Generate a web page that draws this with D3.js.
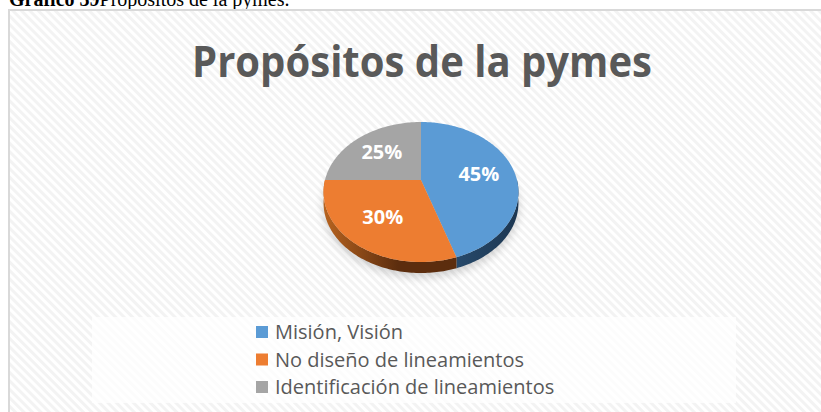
<!DOCTYPE html>
<html>
<head>
<meta charset="utf-8">
<script src="https://cdn.jsdelivr.net/npm/d3@7"></script>
<style>
  body { margin: 0; background: #fff; }
  svg { display: block; }
</style>
</head>
<body>
<script>
var categories = ["Misión, Visión", "No diseño de lineamientos", "Identificación de lineamientos"];
var values = [45, 30, 25];
var labels = ["45%", "30%", "25%"];
var colors = ["#5b9bd5", "#ed7d31", "#a5a5a5"];
var sideColors = [["#2d5479", "#1d3752"], ["#b5621f", "#5c2d0e"], ["#7c7c7c", "#5a5a5a"]];
var title = "Propósitos de la pymes";
var captionBold = "Gráfico 39";
var captionText = "Propósitos de la pymes.";

var width = 821, height = 412;
var cx = 421, cy = 180, k = 96, depth = 11;
var A = 37.1, C = -0.1714;   // simple perspective tilt of the pie

// angle a clockwise from 12 o'clock, r in [0,1]
function project(a, r, dz) {
	var u = r * Math.sin(a), z = -r * Math.cos(a);
	var w = 1 + C * z;
	return [cx + k * u / w, (A * z + cy) / w + (dz || 0)];
}

var svg = d3.select("body").append("svg")
	.attr("width", width)
	.attr("height", height);

var defs = svg.append("defs");

var pat = defs.append("pattern")
	.attr("id", "stripes")
	.attr("patternUnits", "userSpaceOnUse")
	.attr("width", 6)
	.attr("height", 6)
	.attr("patternTransform", "rotate(-45)");
pat.append("rect").attr("width", 6).attr("height", 6).attr("fill", "#ffffff");
pat.append("rect").attr("width", 3).attr("height", 6).attr("fill", "#f3f3f3");

defs.append("filter")
	.attr("id", "blur")
	.attr("x", "-50%").attr("y", "-50%").attr("width", "200%").attr("height", "200%")
	.append("feGaussianBlur")
	.attr("stdDeviation", 5);

sideColors.forEach(function (c, i) {
	var g = defs.append("linearGradient")
		.attr("id", "side" + i)
		.attr("gradientUnits", "userSpaceOnUse")
		.attr("x1", cx - k).attr("x2", cx + k)
		.attr("y1", 0).attr("y2", 0);
	g.append("stop").attr("offset", i === 0 ? 0.5 : 0).attr("stop-color", c[0]);
	g.append("stop").attr("offset", i === 0 ? 1 : 0.38).attr("stop-color", c[1]);
});

// caption above the chart frame (cut off by the page top, as in the source)
var cap = svg.append("text")
	.attr("x", 9)
	.attr("y", 6)
	.style("font", "20px 'Liberation Serif', serif")
	.attr("fill", "#000");
cap.append("tspan").style("font-weight", "bold").text(captionBold);
cap.append("tspan").text(captionText);

// chart frame
svg.append("rect")
	.attr("x", 9)
	.attr("y", 10)
	.attr("width", 900)
	.attr("height", 500)
	.attr("fill", "url(#stripes)")
	.attr("stroke", "#d9d9d9")
	.attr("stroke-width", 2);

svg.append("text")
	.attr("x", 422)
	.attr("y", 77)
	.attr("text-anchor", "middle")
	.attr("textLength", 460)
	.attr("lengthAdjust", "spacingAndGlyphs")
	.style("font", "bold 43px 'Open Sans', sans-serif")
	.attr("fill", "#595959")
	.text(title);

var pie = d3.pie().sort(null).value(d => d);
var arcs = pie(values);

var line = d3.line();

function arcPoints(a0, a1, r, dz) {
	var n = Math.max(2, Math.ceil((a1 - a0) / 0.02));
	return d3.range(n + 1).map(i => project(a0 + (a1 - a0) * i / n, r, dz));
}

// shadow under the pie
svg.append("path")
	.attr("d", line(arcPoints(0, 2 * Math.PI, 1, depth + 4)) + "Z")
	.attr("fill", "#000")
	.attr("opacity", 0.18)
	.attr("filter", "url(#blur)");

// side walls (front half only)
var pieG = svg.append("g");
arcs.forEach(function (d, i) {
	var a0 = Math.max(d.startAngle, Math.PI / 2);
	var a1 = Math.min(d.endAngle, 3 * Math.PI / 2);
	if (a0 >= a1) return;
	var top = arcPoints(a0, a1, 1, 0);
	var bottom = arcPoints(a0, a1, 1, depth).reverse();
	pieG.append("path")
		.attr("d", line(top.concat(bottom)) + "Z")
		.attr("fill", "url(#side" + i + ")");
});

// top faces
pieG.selectAll(".slice")
	.data(arcs)
	.enter()
	.append("path")
	.attr("class", "slice")
	.attr("d", d => line([project(0, 0)].concat(arcPoints(d.startAngle, d.endAngle, 1, 0))) + "Z")
	.attr("fill", (d, i) => colors[i]);

pieG.selectAll(".lbl")
	.data(arcs)
	.enter()
	.append("text")
	.attr("class", "lbl")
	.attr("x", d => project((d.startAngle + d.endAngle) / 2, 0.62)[0])
	.attr("y", d => project((d.startAngle + d.endAngle) / 2, 0.62)[1])
	.attr("text-anchor", "middle")
	.attr("dy", "0.35em")
	.style("font", "bold 20px 'Open Sans', sans-serif")
	.attr("fill", "#fff")
	.text((d, i) => labels[i]);

// legend
svg.append("rect")
	.attr("x", 92)
	.attr("y", 317)
	.attr("width", 644)
	.attr("height", 86)
	.attr("fill", "#fff")
	.attr("opacity", 0.75);

var legend = svg.append("g")
	.selectAll("g")
	.data(categories)
	.enter()
	.append("g")
	.attr("transform", (d, i) => "translate(256," + (332 + i * 27.5) + ")");

legend.append("rect")
	.attr("x", 0)
	.attr("y", -6)
	.attr("width", 12)
	.attr("height", 12)
	.attr("fill", (d, i) => colors[i]);

legend.append("text")
	.attr("x", 19)
	.attr("dy", "0.35em")
	.style("font", "20px 'Open Sans', sans-serif")
	.attr("fill", "#595959")
	.text(d => d);
</script>
</body>
</html>
